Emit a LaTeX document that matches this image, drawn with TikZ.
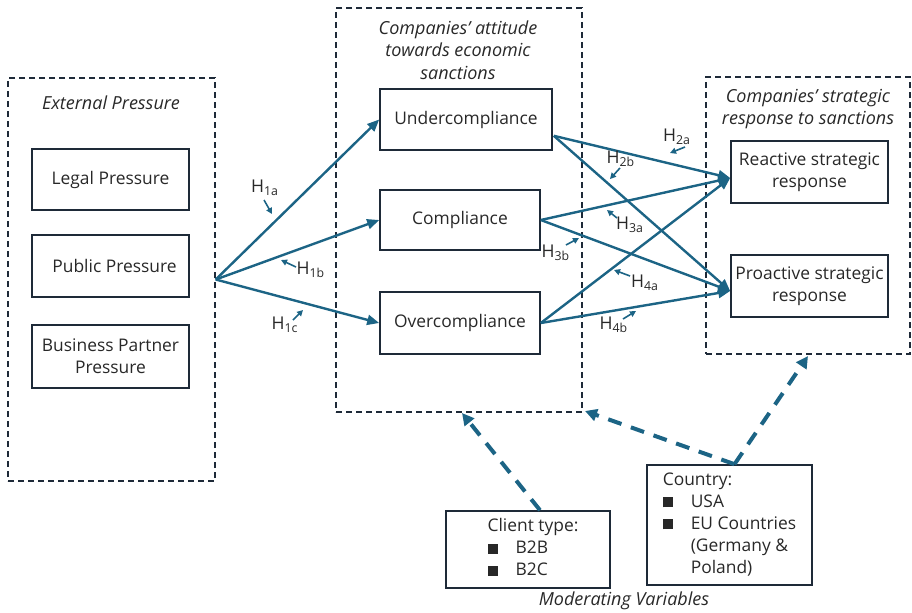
\documentclass[tikz,border=0pt]{standalone}
\usepackage{fontspec}
\setmainfont{Open Sans}
\usetikzlibrary{arrows.meta,calc}
\definecolor{flow}{RGB}{28,100,133}
\definecolor{boxline}{RGB}{30,42,56}
\definecolor{txt}{RGB}{40,40,40}
\newcommand{\blt}{\rule{5pt}{5pt}}
\tikzset{
  box/.style={draw=boxline,line width=0.8pt,align=center,text=txt,font=\fontsize{8.7}{11}\selectfont,inner sep=1pt},
  container/.style={draw=boxline,line width=0.7pt,dash pattern=on 3pt off 2pt},
  title/.style={text=txt,font=\fontsize{9}{11.2}\selectfont\itshape,align=center},
  flowarrow/.style={draw=flow,line width=1.2pt,-{Triangle[length=6pt,width=5pt]}},
  harrow/.style={draw=flow,line width=0.8pt,-{Triangle[length=3pt,width=3pt]}},
  hlabel/.style={text=txt,font=\fontsize{8.8}{10}\selectfont,inner sep=0pt},
  modarrow/.style={draw=flow,line width=2pt,dash pattern=on 7pt off 5pt,-{Triangle[length=6pt,width=6pt]}},
}
\begin{document}
\begin{tikzpicture}[x=0.5pt,y=-0.5pt]
\useasboundingbox (0,0) rectangle (912,612);
% containers
\node[container,minimum width=103.5pt,minimum height=201.5pt] (ext) at (111.5,279.5) {};
\node[container,minimum width=123pt,minimum height=202pt] (mid) at (459,210) {};
\node[container,minimum width=102pt,minimum height=138.5pt] (right) at (808,215.5) {};
\node[title] (extt) at (111,103) {External Pressure};
\node[title] (midt) at (458,50) {Companies' attitude\\towards economic\\sanctions};
\node[title] (rightt) at (808,109) {Companies' strategic\\response to sanctions};
% boxes
\node[box,minimum width=78.5pt,minimum height=30.5pt] (legal) at (110.5,179.5) {Legal Pressure};
\node[box,minimum width=78.5pt,minimum height=31pt] (public) at (110.5,266) {\hspace*{4pt}Public Pressure};
\node[box,minimum width=78.5pt,minimum height=31.5pt] (business) at (110.5,356.5) {Business Partner\\Pressure};
\node[box,minimum width=86pt,minimum height=30.5pt] (under) at (466,119.5) {Undercompliance};
\node[box,minimum width=80pt,minimum height=30pt] (comp) at (460,220) {Compliance};
\node[box,minimum width=80pt,minimum height=31pt] (over) at (460,323) {Overcompliance};
\node[box,minimum width=78.5pt,minimum height=31pt] (react) at (809.5,172) {Reactive strategic\\response};
\node[box,minimum width=78.5pt,minimum height=31pt] (proact) at (809.5,286) {Proactive strategic\\response};
\node[box,minimum width=82pt,minimum height=38.5pt,align=left] (client) at (528,549.5) {\renewcommand{\arraystretch}{1.0}\begin{tabular}{@{\hspace{11pt}}l@{\hspace{9pt}}l@{}}\multicolumn{2}{@{\hspace{11pt}}l}{Client type:}\\\blt&B2B\\\blt&B2C\end{tabular}};
\node[box,minimum width=82.5pt,minimum height=60pt,align=left] (country) at (729.5,525) {\renewcommand{\arraystretch}{1.0}\begin{tabular}{@{}l@{\hspace{9pt}}l@{}}\multicolumn{2}{@{}l}{Country:}\\\blt&USA\\\blt&EU Countries\\&(Germany \&\\&Poland)\end{tabular}};
\node[title] (modt) at (624,601) {Moderating Variables};
% main arrows
\draw[flowarrow] (ext.east) -- (under.west);
\draw[flowarrow] (ext.east) -- (comp.west);
\draw[flowarrow] (ext.east) -- (over.west);
\draw[flowarrow] ($(under.south east)+(1,-15)$) -- ($(react.west)+(0,6)$);
\draw[flowarrow] ($(under.south east)+(1,-15)$) -- ($(proact.west)+(0,5)$);
\draw[flowarrow] (comp.east) -- ($(react.west)+(0,6)$);
\draw[flowarrow] (comp.east) -- ($(proact.west)+(0,5)$);
\draw[flowarrow] (over.east) -- ($(react.west)+(0,6)$);
\draw[flowarrow] (over.east) -- ($(proact.west)+(0,5)$);
% hypothesis labels
\node[hlabel] (h1a) at (265,188) {H\textsubscript{1a}};
\node[hlabel] (h1b) at (311,270) {H\textsubscript{1b}};
\node[hlabel] (h1c) at (285,325) {H\textsubscript{1c}};
\node[hlabel] (h2a) at (677,137) {H\textsubscript{2a}};
\node[hlabel] (h2b) at (621,159) {H\textsubscript{2b}};
\node[hlabel] (h3a) at (630,225) {H\textsubscript{3a}};
\node[hlabel] (h3b) at (556,253) {H\textsubscript{3b}};
\node[hlabel] (h4a) at (645,283) {H\textsubscript{4a}};
\node[hlabel] (h4b) at (614,325) {H\textsubscript{4b}};
\coordinate (p1a) at (272,214);
\coordinate (p1b) at (281,260);
\coordinate (p1c) at (303,310);
\coordinate (p2a) at (670,153);
\coordinate (p2b) at (610,179);
\coordinate (p3a) at (607,210);
\coordinate (p3b) at (579,238);
\coordinate (p4a) at (614,270);
\coordinate (p4b) at (636,311);
\draw[harrow] (264,200) -- (p1a);
\draw[harrow] (296,267) -- (p1b);
\draw[harrow] (293,320) -- (p1c);
\draw[harrow] (685,147) -- (p2a);
\draw[harrow] (620,168) -- (p2b);
\draw[harrow] (617,218) -- (p3a);
\draw[harrow] (566,245) -- (p3b);
\draw[harrow] (630,276) -- (p4a);
\draw[harrow] (623,319) -- (p4b);
% moderating arrows
\draw[modarrow] ($(client.north)+(12,0)$) -- (462,413);
\draw[modarrow] ($(country.north)+(5,0)$) -- (585,411);
\draw[modarrow] ($(country.north)+(5,0)$) -- (808,356);
\end{tikzpicture}
\end{document}
